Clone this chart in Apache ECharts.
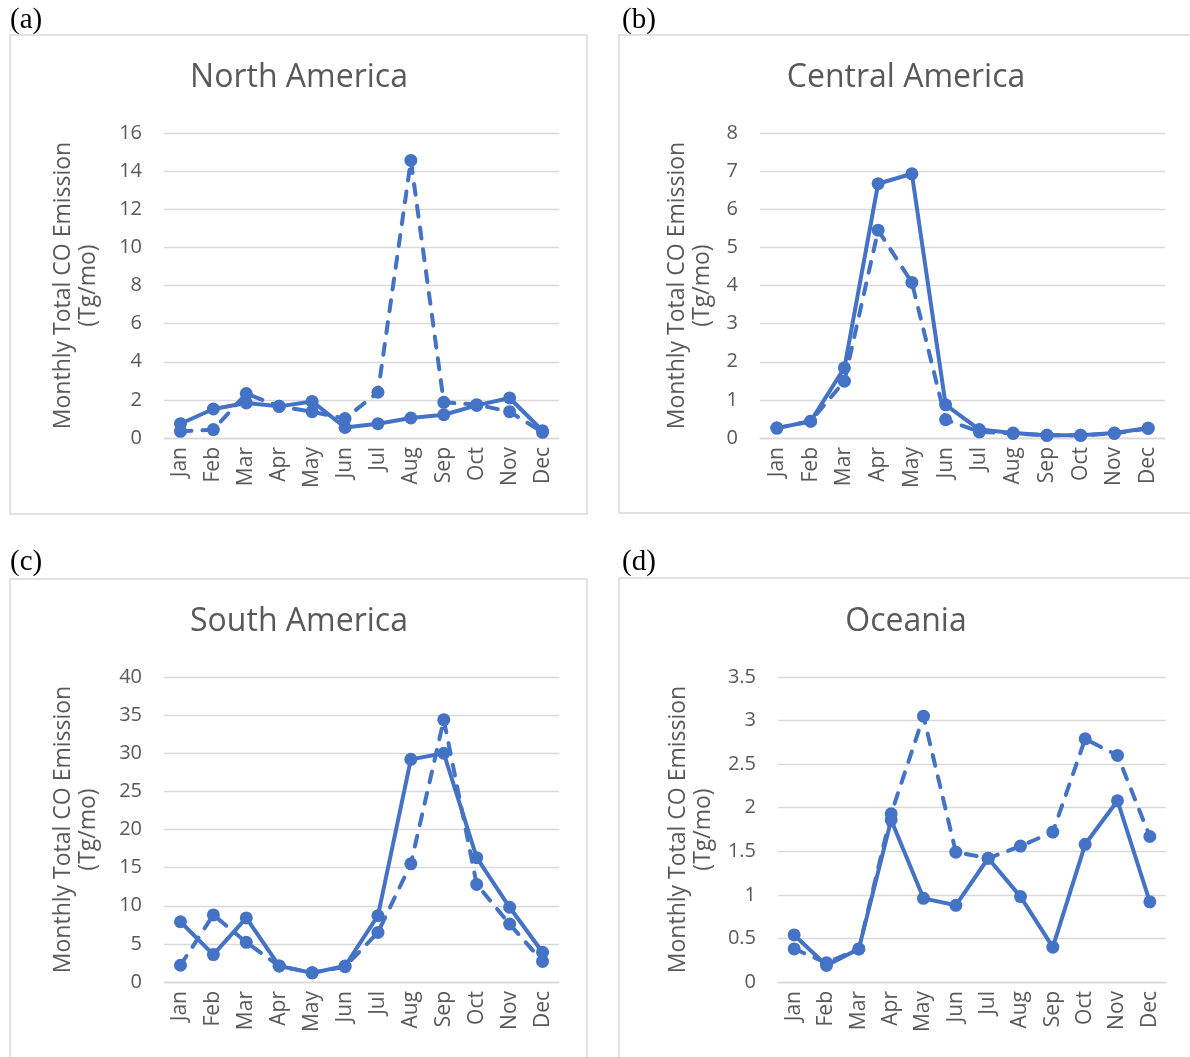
<!DOCTYPE html>
<html>
<head>
<meta charset="utf-8">
<script src="https://cdn.jsdelivr.net/npm/echarts@6/dist/echarts.min.js"></script>
<style>
html,body{margin:0;padding:0;background:#fff;}
#chart{width:1190px;height:1057px;}
</style>
</head>
<body>
<div id="chart"></div>
<script>
const months = ['Jan','Feb','Mar','Apr','May','Jun','Jul','Aug','Sep','Oct','Nov','Dec'];
const panelTitles = ['North America','Central America','South America','Oceania'];
const panelLabels = ['(a)','(b)','(c)','(d)'];
const yAxisName = 'Monthly Total CO Emission\n(Tg/mo)';

const naSolid  = [0.75, 1.52, 1.84, 1.66, 1.92, 0.55, 0.75, 1.05, 1.22, 1.71, 2.10, 0.38];
const naDashed = [0.35, 0.44, 2.33, 1.66, 1.38, 1.02, 2.40, 14.56, 1.87, 1.75, 1.38, 0.30];
const caSolid  = [0.26, 0.44, 1.84, 6.67, 6.93, 0.87, 0.22, 0.13, 0.07, 0.07, 0.13, 0.26];
const caDashed = [0.26, 0.44, 1.49, 5.45, 4.08, 0.48, 0.16, 0.12, 0.07, 0.07, 0.12, 0.25];
const saSolid  = [7.9, 3.6, 8.4, 2.1, 1.2, 2.1, 8.7, 29.2, 30.0, 16.3, 9.8, 3.9];
const saDashed = [2.2, 8.8, 5.2, 2.1, 1.2, 2.0, 6.5, 15.5, 34.4, 12.8, 7.6, 2.7];
const ocSolid  = [0.54, 0.19, 0.38, 1.86, 0.96, 0.88, 1.42, 0.98, 0.40, 1.58, 2.08, 0.92];
const ocDashed = [0.38, 0.22, 0.38, 1.93, 3.05, 1.49, 1.42, 1.56, 1.72, 2.79, 2.60, 1.67];

const yMax = [16, 8, 40, 3.5];
const yInterval = [2, 1, 5, 0.5];
const solidSets = [naSolid, caSolid, saSolid, ocSolid];
const dashedSets = [naDashed, caDashed, saDashed, ocDashed];

const TXT = '#595959';
const GRIDC = '#d9d9d9';
const BLUE = '#4472C4';
const SANS = '"Open Sans", "Noto Sans", sans-serif';

const grids = [
  {left:164, top:133, width:395, height:305},
  {left:760, top:133, width:405, height:305},
  {left:164, top:677, width:395, height:305},
  {left:778, top:677, width:388, height:305}
];
const nameGaps = [63, 45, 63, 62];
const boxes = [
  {x:10, y:35, width:577, height:479},
  {x:619, y:35, width:600, height:478},
  {x:10, y:579, width:577, height:500},
  {x:619, y:578, width:600, height:500}
];
const titlePos = [[299,78],[906,78],[299,622],[906,622]];
const labelPos = [[10,20],[622,20],[10,562],[622,562]];

const xAxes = [], yAxes = [], series = [], graphic = [];
for (let i = 0; i < 4; i++) {
  xAxes.push({
    gridIndex:i, type:'category', data:months, boundaryGap:true,
    axisLine:{lineStyle:{color:GRIDC, width:1.3}}, axisTick:{show:false},
    axisLabel:{rotate:90, color:TXT, fontSize:21, fontFamily:SANS, margin:9}
  });
  yAxes.push({
    gridIndex:i, type:'value', min:0, max:yMax[i], interval:yInterval[i],
    axisLine:{show:false}, axisTick:{show:false},
    splitLine:{lineStyle:{color:GRIDC, width:1.3}},
    axisLabel:{color:TXT, fontSize:20, fontFamily:SANS, margin:22},
    name:yAxisName, nameLocation:'middle', nameGap:nameGaps[i],
    nameTextStyle:{color:TXT, fontSize:23, fontFamily:SANS, lineHeight:25}
  });
  series.push({
    type:'line', xAxisIndex:i, yAxisIndex:i, data:solidSets[i],
    symbol:'circle', symbolSize:13, itemStyle:{color:BLUE},
    lineStyle:{color:BLUE, width:4, cap:'round', join:'round'}, z:3
  });
  series.push({
    type:'line', xAxisIndex:i, yAxisIndex:i, data:dashedSets[i],
    symbol:'circle', symbolSize:13, itemStyle:{color:BLUE},
    lineStyle:{color:BLUE, width:4, type:[11,11], cap:'round', join:'round'}, z:4
  });
  graphic.push({
    type:'rect', shape:boxes[i], silent:true, z:-1,
    style:{fill:'none', stroke:GRIDC, lineWidth:1.5}
  });
  graphic.push({
    type:'text', x:titlePos[i][0], y:titlePos[i][1],
    style:{text:panelTitles[i], fill:TXT, fontSize:32, fontFamily:SANS,
      textAlign:'center', textVerticalAlign:'middle'}
  });
  graphic.push({
    type:'text', x:labelPos[i][0], y:labelPos[i][1],
    style:{text:panelLabels[i], fill:'#000', fontSize:29, fontFamily:'"Liberation Serif", "Times New Roman", serif',
      textAlign:'left', textVerticalAlign:'middle'}
  });
}

const chart = echarts.init(document.getElementById('chart'), null, {renderer:'canvas'});
chart.setOption({
  animation:false,
  backgroundColor:'#fff',
  grid:grids,
  xAxis:xAxes,
  yAxis:yAxes,
  series:series,
  graphic:graphic
});
</script>
</body>
</html>
